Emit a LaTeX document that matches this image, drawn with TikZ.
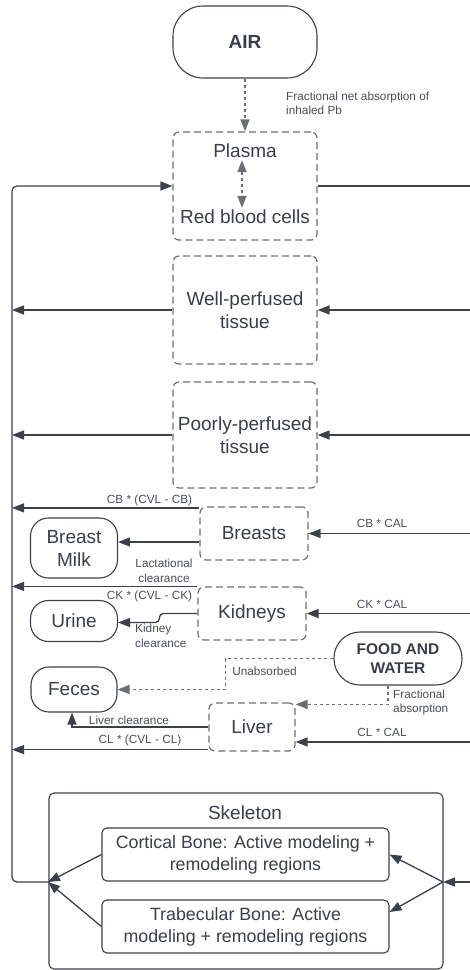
\documentclass[tikz,border=0pt]{standalone}
\usepackage{fontspec}
\setmainfont{Liberation Sans}
\usetikzlibrary{arrows.meta,calc}
\definecolor{ln}{HTML}{3C4049}
\definecolor{bx}{HTML}{6A6E76}
\definecolor{tx}{HTML}{3A3E46}
\definecolor{lb}{HTML}{4A4E56}
\tikzset{
 big/.style={font=\fontsize{19}{23}\selectfont, text=tx, align=center},
 small/.style={font=\fontsize{11.8}{14.5}\selectfont, text=lb, inner sep=0pt},
 dbox/.style={draw=bx, dash pattern=on 7pt off 4pt, line width=1.2pt, rounded corners=6pt, big, inner sep=0pt},
 sbox/.style={draw=ln, line width=1.1pt, big, inner sep=0pt},
 bonebox/.style={sbox, rounded corners=5pt, minimum width=287pt, minimum height=53pt, font=\fontsize{17.8}{22}\selectfont},
 arr/.style={draw=ln, line width=1.3pt, -{Triangle[length=12pt,width=9pt]}},
 dotarr/.style={draw=bx, line width=1.3pt, dash pattern=on 3pt off 3pt, -{Triangle[length=12pt,width=9pt]}},
 plainline/.style={draw=ln, line width=1.3pt},
}
\begin{document}
\begin{tikzpicture}[x=1pt,y=-1pt]
\useasboundingbox (0,0) rectangle (470,970);
\coordinate (bus) at (12,0);
\coordinate (redge) at (470,0);
% AIR
\node[sbox, rounded corners=30pt, minimum width=144pt, minimum height=72pt, font=\bfseries\fontsize{19}{23}\selectfont] (air) at (245,42) {AIR};
% blood
\node[dbox, minimum width=144pt, minimum height=108pt] (blood) at (245,186) {};
\node[big, inner sep=2pt] (plasma) at (245,151) {Plasma};
\node[big, inner sep=2pt] (rbc) at (245,217) {Red blood cells};
\draw[dotarr] (air) -- (blood);
\node[small, align=left, anchor=west] (inhal) at (286,103.5) {Fractional net absorption of\\inhaled Pb};
\draw[dotarr, {Triangle[length=12pt,width=9pt]}-{Triangle[length=12pt,width=9pt]}] ($(plasma.south)+(-3,0)$) -- ($(rbc.north)+(-3,0)$);
\coordinate (jl) at (48,882);
\draw[arr, rounded corners=5pt] (jl) -| ($(bus)+(0,186)$) -- (blood.west);
\draw[plainline] (blood.east) -- (blood.east -| redge);
% tissues
\node[dbox, minimum width=144pt, minimum height=108pt] (well) at (245,310) {Well-perfused\\tissue};
\draw[arr] (well.west) -- (well.west -| bus);
\draw[arr] (well.east -| redge) -- (well.east);
\node[dbox, minimum width=144pt, minimum height=106pt] (poor) at (245,435) {Poorly-perfused\\tissue};
\draw[arr] (poor.west) -- (poor.west -| bus);
\draw[arr] (poor.east -| redge) -- (poor.east);
% breasts
\node[dbox, minimum width=108pt, minimum height=53pt] (breasts) at (254,533.5) {Breasts};
\draw[arr] ($(breasts.north west)+(0,1.5)$) -- ($(breasts.north west -| bus)+(0,1.5)$);
\node[small] (cbl) at (149.5,500) {CB * (CVL - CB)};
\draw[arr] (breasts.east -| redge) -- (breasts.east);
\node[small] (cbr) at (382,523) {CB * CAL};
\node[sbox, rounded corners=18pt, minimum width=87pt, minimum height=60pt] (milk) at (74,548) {Breast\\Milk};
\draw[arr] ($(breasts.west)+(0,8.5)$) -- ($(milk.east)+(0,-6)$);
\node[small, align=center] (lact) at (164,571) {Lactational\\clearance};
% kidneys
\node[dbox, minimum width=108pt, minimum height=53pt] (kidneys) at (252,613.5) {Kidneys};
\draw[arr] (kidneys.north west) -- (kidneys.north west -| bus);
\node[small] (ckl) at (149.5,596) {CK * (CVL - CK)};
\draw[arr] (kidneys.east -| redge) -- (kidneys.east);
\node[small] (ckr) at (382,604) {CK * CAL};
\node[sbox, rounded corners=18pt, minimum width=87pt, minimum height=41pt] (urine) at (74,621) {Urine};
\draw[arr, rounded corners=4pt] (kidneys.west) -- ++(-38,0) |- ($(urine.east)+(0,1.5)$);
\node[small, align=left, anchor=west] (kcl) at (135,636) {Kidney\\clearance};
% food
\node[sbox, rounded corners=26pt, minimum width=128pt, minimum height=53pt, font=\bfseries\fontsize{15.5}{19}\selectfont] (food) at (398,658.5) {FOOD AND\\WATER};
\node[sbox, rounded corners=18pt, minimum width=86pt, minimum height=45pt] (feces) at (74,689.5) {Feces};
\draw[dotarr] (food.west) -- ++(-108,0) |- (feces.east);
\node[small] (unabs) at (264.5,671) {Unabsorbed};
% liver
\node[dbox, minimum width=86pt, minimum height=48pt] (liver) at (252,727) {Liver};
\draw[dotarr] ($(food.south)+(-10,0)$) |- ($(liver.north east)+(0,2)$);
\node[small, align=left, anchor=west] (fabs) at (393,702.5) {Fractional\\absorption};
\draw[arr] (liver.west) -| ($(feces.south)+(-2,0)$);
\node[small] (lcl) at (129,720) {Liver clearance};
\draw[arr] ($(liver.south west)+(0,-2)$) -- ($(liver.south west -| bus)+(0,-2)$);
\node[small] (cll) at (140,740) {CL * (CVL - CL)};
\coordinate (rl) at (470,742);
\draw[arr] (rl) -- (rl -| liver.east);
\node[small] (clr) at (382,732) {CL * CAL};
% skeleton
\node[draw=ln, line width=1.1pt, rounded corners=5pt, minimum width=394pt, minimum height=176pt, inner sep=0pt] (skel) at (246,881) {};
\node[big] (skeltitle) at (245,813) {Skeleton};
\node[bonebox] (cort) at (245.5,854.5) {Cortical Bone: Active modeling +\\remodeling regions};
\node[bonebox] (trab) at (245.5,926.5) {Trabecular Bone: Active\\modeling + remodeling regions};
\coordinate (jr) at (443,882);
\coordinate (rs) at (470,882);
\draw[arr] (rs) -- (jr);
\draw[arr] (jr) -- (cort.east);
\draw[arr] (jr) -- ($(trab.east)+(0,-14.5)$);
\draw[arr] (cort.west) -- (jl);
\draw[arr] (trab.west) -- (jl);
\end{tikzpicture}
\end{document}
